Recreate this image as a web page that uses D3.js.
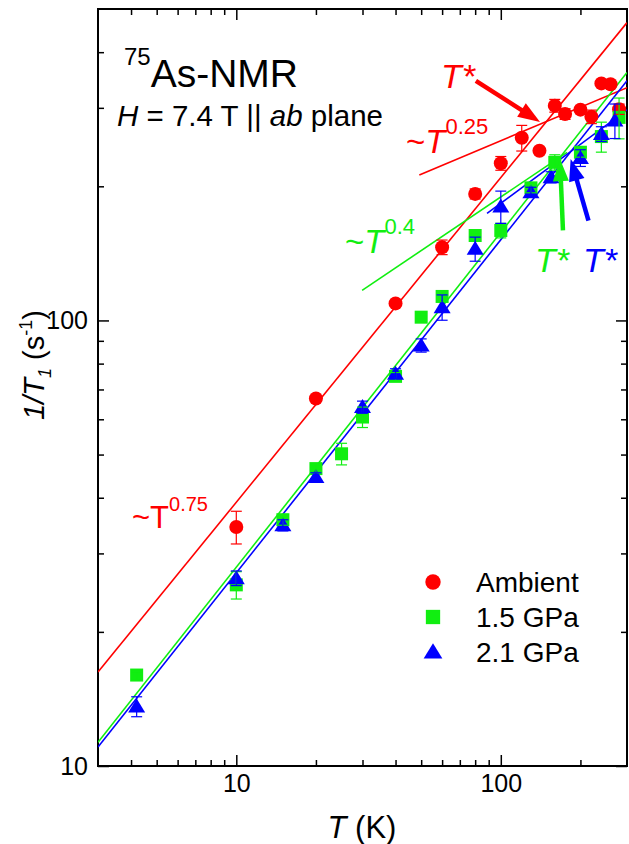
<!DOCTYPE html>
<html><head><meta charset="utf-8">
<script src="https://cdn.jsdelivr.net/npm/d3@7"></script>
<style>
html,body{margin:0;padding:0;background:#fff;}
svg{display:block;font-family:"Liberation Sans",Arial,sans-serif;}
</style></head>
<body><svg id="c" width="629" height="844"></svg>
<script>
// ---------- data ----------
const xTicksMajor = [10, 100];
const xTicksMinor = [4,5,6,7,8,9,20,30,40,50,60,70,80,90,200];
const yTicksMajor = [10, 100];
const yTicksMinor = [20,30,40,50,60,70,80,90,200,300,400];

const seriesNames = ["Ambient", "1.5 GPa", "2.1 GPa"];
const seriesColors = ["#ff0000", "#11ee11", "#0000ff"];

const ambientT   = [10, 20, 40, 60, 80, 100, 120, 140, 160, 175, 200, 220, 240, 260, 280];
const ambientV   = [34.4, 66.8, 109.2, 146, 192.3, 225.3, 257, 240.4, 303.4, 290.6, 297.2, 286.5, 340.4, 339, 298];
const ambientErr = [2.9, 0.8, 1.2, 5.5, 5, 8, 17, 2, 10, 8, 2, 10, 2, 2, 8];

const gpa15T   = [4.2, 10, 15, 20, 25, 30, 40, 50, 60, 80, 100, 130, 160, 200, 240, 280];
const gpa15V   = [16.0, 25.5, 35.7, 46.5, 50.2, 60.7, 74.9, 101.7, 113.2, 155.1, 159.2, 198.4, 226.4, 238.5, 258.6, 285.6];
const gpa15Err = [0.3, 1.8, 1, 1, 2.8, 3.2, 1.5, 0.5, 3, 1, 6, 5, 9, 6, 20, 30];

const gpa21T   = [4.2, 10, 15, 20, 30, 40, 50, 60, 80, 100, 130, 155, 200, 240, 270];
const gpa21V   = [13.6, 26.4, 34.7, 44.5, 63.9, 75.9, 87.9, 107.1, 144.8, 180.1, 194, 209.6, 231.6, 262.1, 281];
const gpa21Err = [0.7, 1, 1, 1, 2, 2, 3, 7, 9, 15, 5, 6, 10, 10, 25];

// power-law fit lines: [T, 1/T1] end points
const fitAmbientSteep   = [[3, 16.25], [300, 466]];
const fitAmbientShallow = [[49.2, 212], [300, 333]];
const fit15Steep        = [[3, 11.3], [300, 360]];
const fit15Shallow      = [[29.9, 116.8], [178, 238.4]];
const fit21Steep        = [[3, 11.03], [300, 345]];
const fit21Shallow      = [[88.7, 173.8], [300, 297]];

// T* arrows: [tail, tip] in data coordinates
const arrowAmbient = [[80.5, 345], [140.7, 279]];
const arrow15      = [[171.8, 159.2], [167.4, 230.2]];
const arrow21      = [[214.5, 167.6], [183.7, 230.3]];

// ---------- layout ----------
const L = 98, R = 627, T0 = 9, B = 766;
const svg = d3.select("#c");
const x = d3.scaleLog().domain([3, 300]).range([L, R]);
const y = d3.scaleLog().domain([10, 500]).range([B, T0]);

svg.append("clipPath").attr("id","clip").append("rect")
  .attr("x",L).attr("y",T0).attr("width",R-L).attr("height",B-T0);

const fmt = d3.format("d");
function styleAxis(g){ g.select(".domain").remove(); g.selectAll("line").attr("stroke","#000").attr("stroke-width",1.5); }

svg.append("g").attr("transform",`translate(0,${B})`)
  .call(d3.axisBottom(x).tickValues(xTicksMajor).tickSize(-11).tickPadding(8).tickFormat(fmt))
  .call(styleAxis).selectAll("text").attr("font-size",25).attr("fill","#000").attr("font-family","Liberation Sans, Arial, sans-serif");
svg.append("g").attr("transform",`translate(0,${B})`)
  .call(d3.axisBottom(x).tickValues(xTicksMinor).tickSize(-6).tickFormat(""))
  .call(styleAxis);
svg.append("g").attr("transform",`translate(0,${T0})`)
  .call(d3.axisTop(x).tickValues(xTicksMajor).tickSize(-11).tickFormat(""))
  .call(styleAxis);
svg.append("g").attr("transform",`translate(0,${T0})`)
  .call(d3.axisTop(x).tickValues(xTicksMinor).tickSize(-6).tickFormat(""))
  .call(styleAxis);

svg.append("g").attr("transform",`translate(${L},0)`)
  .call(d3.axisLeft(y).tickValues(yTicksMajor).tickSize(-11).tickPadding(10).tickFormat(fmt))
  .call(styleAxis).selectAll("text").attr("font-size",25).attr("fill","#000").attr("font-family","Liberation Sans, Arial, sans-serif");
svg.append("g").attr("transform",`translate(${L},0)`)
  .call(d3.axisLeft(y).tickValues(yTicksMinor).tickSize(-6).tickFormat(""))
  .call(styleAxis);
svg.append("g").attr("transform",`translate(${R},0)`)
  .call(d3.axisRight(y).tickValues(yTicksMajor).tickSize(-11).tickFormat(""))
  .call(styleAxis);
svg.append("g").attr("transform",`translate(${R},0)`)
  .call(d3.axisRight(y).tickValues(yTicksMinor).tickSize(-6).tickFormat(""))
  .call(styleAxis);

svg.append("rect").attr("x",L).attr("y",T0).attr("width",R-L).attr("height",B-T0)
  .attr("fill","none").attr("stroke","#000").attr("stroke-width",2);

// ---------- fit lines ----------
const plot = svg.append("g").attr("clip-path","url(#clip)");
const line = d3.line().x(d=>x(d[0])).y(d=>y(d[1]));
const fits = [
  [fitAmbientSteep, seriesColors[0]], [fitAmbientShallow, seriesColors[0]],
  [fit15Steep, seriesColors[1]], [fit15Shallow, seriesColors[1]],
  [fit21Steep, seriesColors[2]], [fit21Shallow, seriesColors[2]]
];
fits.forEach(([d,c])=>plot.append("path").attr("d",line(d)).attr("fill","none").attr("stroke",c).attr("stroke-width",1.6));

// ---------- data points ----------
const sets = [
  {T:ambientT, V:ambientV, E:ambientErr, c:seriesColors[0], shape:"circle"},
  {T:gpa15T, V:gpa15V, E:gpa15Err, c:seriesColors[1], shape:"square"},
  {T:gpa21T, V:gpa21V, E:gpa21Err, c:seriesColors[2], shape:"triangle"}
];
function marker(g, shape, cx, cy, c, k){
  k = k || 1;
  if(shape==="circle") g.append("circle").attr("cx",cx).attr("cy",cy).attr("r",7*k).attr("fill",c);
  else if(shape==="square") g.append("rect").attr("x",cx-6.5*k).attr("y",cy-6.5*k).attr("width",13*k).attr("height",13*k).attr("fill",c);
  else g.append("path").attr("d",`M${cx},${cy-8*k}L${cx+8.5*k},${cy+6*k}L${cx-8.5*k},${cy+6*k}Z`).attr("fill",c);
}
const pts = plot.append("g");
sets.forEach(s=>{
  s.T.forEach((t,i)=>marker(pts, s.shape, x(t), y(s.V[i]), s.c));
});
const errs = plot.append("g");
sets.forEach(s=>{
  s.T.forEach((t,i)=>{
    const cx = x(t), y1 = y(s.V[i]+s.E[i]), y2 = y(s.V[i]-s.E[i]);
    errs.append("line").attr("x1",cx).attr("x2",cx).attr("y1",y1).attr("y2",y2).attr("stroke",s.c).attr("stroke-width",1.2);
    [y1,y2].forEach(yy=>errs.append("line").attr("x1",cx-5.5).attr("x2",cx+5.5).attr("y1",yy).attr("y2",yy).attr("stroke",s.c).attr("stroke-width",1.2));
  });
});

// ---------- arrows ----------
function arrow(a, c){
  const [x1,y1] = [x(a[0][0]), y(a[0][1])], [x2,y2] = [x(a[1][0]), y(a[1][1])];
  const dx = x2-x1, dy = y2-y1, len = Math.hypot(dx,dy), ux = dx/len, uy = dy/len;
  const hl = 22, hw = 8;
  const bx = x2-ux*hl, by = y2-uy*hl;
  svg.append("line").attr("x1",x1).attr("y1",y1).attr("x2",bx+ux*2).attr("y2",by+uy*2).attr("stroke",c).attr("stroke-width",4.5);
  svg.append("path").attr("d",`M${x2},${y2}L${bx-uy*hw},${by+ux*hw}L${bx+uy*hw},${by-ux*hw}Z`).attr("fill",c);
}
arrow(arrowAmbient, seriesColors[0]);
arrow(arrow15, seriesColors[1]);
arrow(arrow21, seriesColors[2]);

// ---------- texts ----------
function rich(xp, yp, parts, color, size){
  const t = svg.append("text").attr("x",xp).attr("y",yp).attr("fill",color).attr("font-size",size);
  parts.forEach(p=>{
    const s = t.append("tspan").text(p.t);
    if(p.it) s.attr("font-style","italic");
    if(p.fs) s.attr("font-size",p.fs);
    if(p.dy!==undefined) s.attr("dy",p.dy);
  });
  return t;
}
rich(124, 87, [{t:"75", fs:24, dy:-22}, {t:"As-NMR", dy:22}], "#000", 39);
rich(117, 126, [{t:"H", it:true}, {t:" = 7.4 T || "}, {t:"ab", it:true}, {t:" plane"}], "#000", 29.5);

rich(441, 88, [{t:"T*", it:true}], seriesColors[0], 34);
rich(406, 153, [{t:"~"}, {t:"T", it:true}, {t:"0.25", fs:22, dy:-19}], seriesColors[0], 33);
rich(345, 253, [{t:"~"}, {t:"T", it:true}, {t:"0.4", fs:22, dy:-19}], seriesColors[1], 33);
rich(535, 272, [{t:"T*", it:true}], seriesColors[1], 34);
rich(583, 272, [{t:"T*", it:true}], seriesColors[2], 34);
rich(132, 528, [{t:"~T"}, {t:"0.75", fs:20, dy:-17}], seriesColors[0], 31);

// axis titles
rich(362, 838, [{t:"T", it:true}, {t:" (K)"}], "#000", 31).attr("text-anchor","middle");
rich(0, 0, [{t:"1/T", it:true}, {t:"1", it:true, fs:18, dy:7}, {t:" (s", dy:-7}, {t:"-1", fs:18, dy:-12}, {t:")", dy:12}], "#000", 29)
  .attr("text-anchor","middle").attr("transform","translate(44,365) rotate(-90)");

// legend
const legY = [582, 617, 652];
const shapes = ["circle","square","triangle"];
seriesNames.forEach((n,i)=>{
  marker(svg, shapes[i], 433, legY[i], seriesColors[i], 1.1);
  svg.append("text").attr("x",476).attr("y",legY[i]+10).attr("font-size",28).attr("fill","#000").text(n);
});
</script></body></html>
